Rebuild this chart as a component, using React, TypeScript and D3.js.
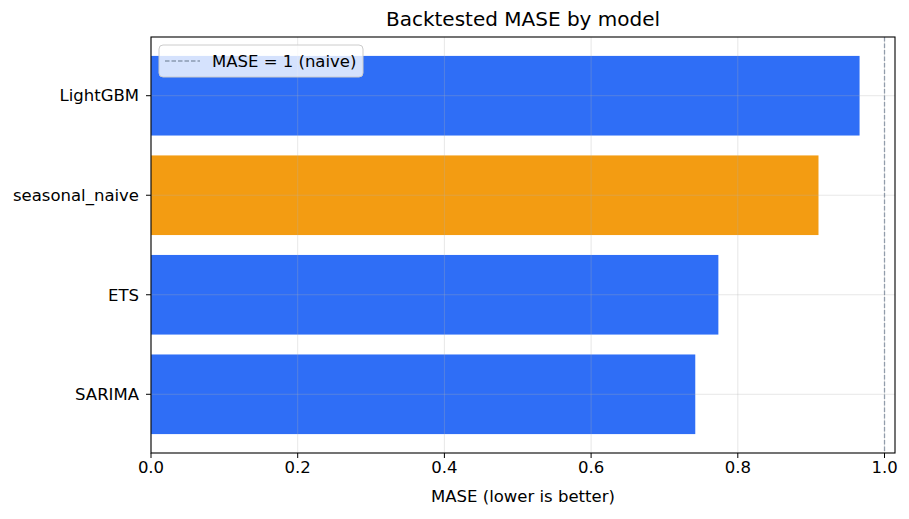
import React from "react";
import * as d3 from "d3";

// Backtested MASE per model (lower is better)
const models: string[] = ["SARIMA", "ETS", "seasonal_naive", "LightGBM"];
const mase: number[] = [0.742, 0.7735, 0.91, 0.966];
const baselineModel = "seasonal_naive";
const xTicks: number[] = [0, 0.2, 0.4, 0.6, 0.8, 1.0];
const naiveReference = 1;

const W = 909;
const H = 519;
const margin = { left: 151, right: 14, top: 37, bottom: 66 };
const FONT = "'DejaVu Sans', sans-serif";
const BLUE = "#2F6EF6";
const ORANGE = "#F39C12";
const FS = 16.5;

export default function App() {
  const innerW = W - margin.left - margin.right;
  const innerH = H - margin.top - margin.bottom;
  const xMax = d3.max(mase)! * 1.05;
  const x = d3.scaleLinear().domain([0, xMax]).range([0, innerW]);
  // categorical positions 0..n-1 with matplotlib-like padding
  const n = models.length;
  const pad = 0.4 + 0.05 * (n - 1 + 0.8);
  const y = d3.scaleLinear().domain([-pad, n - 1 + pad]).range([innerH, 0]);
  const barH = y(0) - y(0.8);

  return (
    <svg width={W} height={H} style={{ display: "block", position: "absolute", left: 0, top: 0 }} fontFamily={FONT}>
      <rect width={W} height={H} fill="#fff" />
      <text x={margin.left + innerW / 2} y={26} textAnchor="middle" fontSize={20} fill="#000">
        Backtested MASE by model
      </text>
      <g transform={`translate(${margin.left},${margin.top})`}>
        {models.map((m, i) => (
          <rect
            key={m}
            x={x(0)}
            y={y(i) - barH / 2}
            width={x(mase[i]) - x(0)}
            height={barH}
            fill={m === baselineModel ? ORANGE : BLUE}
          />
        ))}
        {/* grid */}
        {xTicks.map((t) => (
          <line key={"gx" + t} x1={x(t)} x2={x(t)} y1={0} y2={innerH} stroke="#b0b0b0" strokeOpacity={0.3} strokeWidth={1} />
        ))}
        {models.map((m, i) => (
          <line key={"gy" + m} x1={0} x2={innerW} y1={y(i)} y2={y(i)} stroke="#b0b0b0" strokeOpacity={0.3} strokeWidth={1} />
        ))}
        {/* naive reference line */}
        <line
          x1={x(naiveReference)}
          x2={x(naiveReference)}
          y1={0}
          y2={innerH}
          stroke="#64748b"
          strokeOpacity={0.65}
          strokeWidth={1.3}
          strokeDasharray="4.5,2"
        />
        {/* frame */}
        <rect x={0} y={0} width={innerW} height={innerH} fill="none" stroke="#000" strokeWidth={1.1} />
        {/* x axis */}
        {xTicks.map((t) => (
          <g key={"xt" + t} transform={`translate(${x(t)},${innerH})`}>
            <line y1={0} y2={5} stroke="#000" strokeWidth={1} />
            <text y={20} textAnchor="middle" fontSize={FS} fill="#000">
              {d3.format(".1f")(t)}
            </text>
          </g>
        ))}
        <text x={innerW / 2} y={innerH + 49} textAnchor="middle" fontSize={FS} fill="#000">
          MASE (lower is better)
        </text>
        {/* y axis */}
        {models.map((m, i) => (
          <g key={"yt" + m} transform={`translate(0,${y(i)})`}>
            <line x1={-5} x2={0} stroke="#000" strokeWidth={1} />
            <text x={-12} dy="0.35em" textAnchor="end" fontSize={FS} fill="#000">
              {m}
            </text>
          </g>
        ))}
        {/* legend */}
        <g transform="translate(8,8)">
          <rect x={0} y={0} width={204} height={32} rx={4} fill="#fff" fillOpacity={0.8} stroke="#cccccc" strokeWidth={1} />
          <line x1={6} x2={41} y1={16} y2={16} stroke="#64748b" strokeOpacity={0.65} strokeWidth={1.3} strokeDasharray="4.5,2" />
          <text x={53} y={16} dy="0.35em" fontSize={FS} fill="#000">
            MASE = 1 (naive)
          </text>
        </g>
      </g>
    </svg>
  );
}
